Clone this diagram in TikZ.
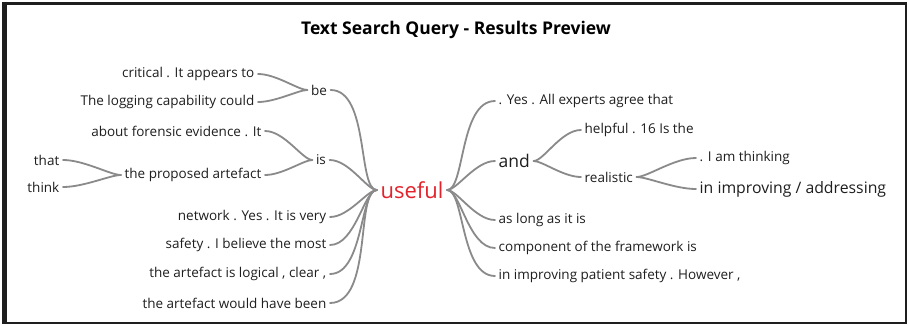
\documentclass[tikz,border=0pt]{standalone}
\usepackage{fontspec}
\setmainfont{Open Sans}
\definecolor{ink}{HTML}{1E1E1E}
\definecolor{wire}{HTML}{8A8A8A}
\definecolor{hit}{HTML}{E3232C}
\begin{document}
\begin{tikzpicture}[x=1pt,y=-1pt,
  word/.style={inner sep=3.5pt, text=ink, font=\fontsize{13.5}{15}\selectfont},
  bigword/.style={word, font=\fontsize{17.5}{20}\selectfont},
  midword/.style={word, font=\fontsize{15.8}{18}\selectfont},
  link/.style={draw=wire, line width=1.8pt, line cap=round},
  tip/.style={out=0, in=180, out looseness=0.9, in looseness=0.45},
  pit/.style={out=180, in=0, out looseness=0.9, in looseness=0.45}]
\useasboundingbox (0,0) rectangle (909,326);
% frame
\draw[ink, line width=2pt] (3,3) rectangle (906,323);
\draw[ink, line width=4pt] (4.5,2) -- (4.5,324);
\draw[ink, line width=3pt] (2,3.5) -- (907,3.5);
% title
\node[font=\bfseries\fontsize{17.5}{20}\selectfont, text=black] (title) at (456,30) {Text Search Query - Results Preview};

% root
\node[text=hit, inner sep=3.5pt, font=\fontsize{22}{25}\selectfont] (root) at (412,190) {useful};

% left branch: be
\node[word] (be) at (319,90) {be};
\node[word, anchor=east] (b1) at (258,74) {critical . It appears to};
\node[word, anchor=east] (b2) at (258,102) {The logging capability could};
% left branch: is
\node[word] (is) at (321,160) {is};
\node[word, anchor=east] (i1) at (265,131) {about forensic evidence . It};
\node[word, anchor=east] (i2) at (265,175) {the proposed artefact};
\node[word, anchor=east] (t1) at (63,160) {that};
\node[word, anchor=east] (t2) at (63,187) {think};
% left leaves of the root
\node[word, anchor=east] (r1) at (330,217) {network . Yes . It is very};
\node[word, anchor=east] (r2) at (330,245) {safety . I believe the most};
\node[word, anchor=east] (r3) at (330,274) {the artefact is logical , clear ,};
\node[word, anchor=east] (r4) at (330,303) {the artefact would have been};

% right side
\node[word, anchor=west] (s1) at (495,101) {. Yes . All experts agree that};
\node[bigword, anchor=west] (and) at (495,161) {and};
\node[word, anchor=west] (a1) at (581,130) {helpful . 16 Is the};
\node[word, anchor=west] (real) at (581,177) {realistic};
\node[word, anchor=west] (q1) at (696,158) {. I am thinking};
\node[midword, anchor=west] (q2) at (696,189) {in improving / addressing};
\node[word, anchor=west] (s2) at (495,220) {as long as it is};
\node[word, anchor=west] (s3) at (495,248) {component of the framework is};
\node[word, anchor=west] (s4) at (495,276) {in improving patient safety . However ,};

% connectors, left half
\draw[link] (b1.east) to[tip] (be.west);
\draw[link] (b2.east) to[tip] (be.west);
\draw[link] (i1.east) to[tip] (is.west);
\draw[link] (i2.east) to[tip] (is.west);
\draw[link] (t1.east) to[tip] (i2.west);
\draw[link] (t2.east) to[tip] (i2.west);
\draw[link] (be.east) to[tip] (root.west);
\draw[link] (is.east) to[tip] (root.west);
\draw[link] (r1.east) to[tip] (root.west);
\draw[link] (r2.east) to[tip] (root.west);
\draw[link] (r3.east) to[tip] (root.west);
\draw[link] (r4.east) to[tip] (root.west);

% connectors, right half
\draw[link] (s1.west) to[pit] (root.east);
\draw[link] (and.west) to[pit] (root.east);
\draw[link] (s2.west) to[pit] (root.east);
\draw[link] (s3.west) to[pit] (root.east);
\draw[link] (s4.west) to[pit] (root.east);
\draw[link] (a1.west) to[pit] (and.east);
\draw[link] (real.west) to[pit] (and.east);
\draw[link] (q1.west) to[pit] (real.east);
\draw[link] (q2.west) to[pit] (real.east);
\end{tikzpicture}
\end{document}
